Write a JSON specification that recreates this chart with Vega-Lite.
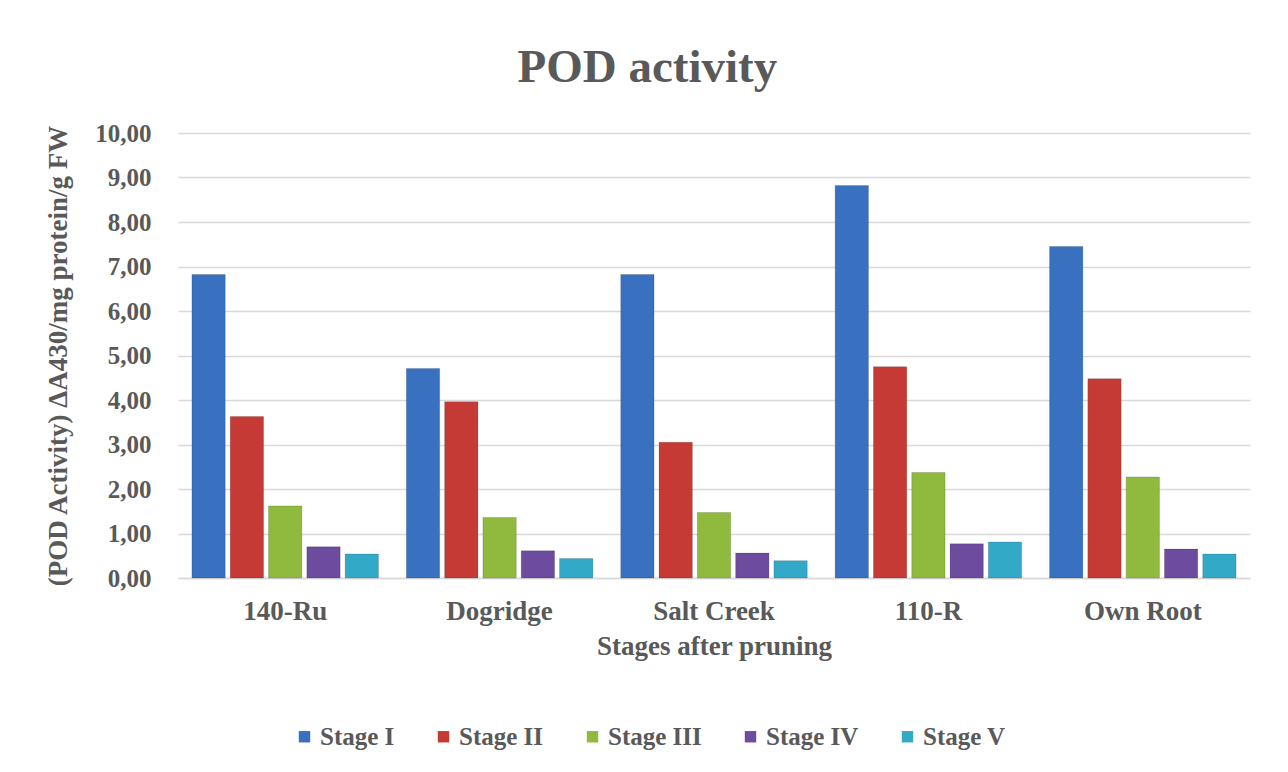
{
  "$schema": "https://vega.github.io/schema/vega-lite/v6.json",
  "width": 1072,
  "height": 445,
  "autosize": {"type": "none"},
  "padding": {"left": 178, "top": 133, "right": 38, "bottom": 194},
  "background": "white",
  "title": {
    "text": "POD activity",
    "font": "Liberation Serif",
    "fontSize": 47,
    "fontWeight": "bold",
    "color": "#595959",
    "anchor": "middle",
    "frame": "bounds",
    "offset": 29
  },
  "data": {
    "values": [
      {"rootstock": "140-Ru", "stage": "Stage I", "value": 6.82},
      {"rootstock": "140-Ru", "stage": "Stage II", "value": 3.63},
      {"rootstock": "140-Ru", "stage": "Stage III", "value": 1.62},
      {"rootstock": "140-Ru", "stage": "Stage IV", "value": 0.70},
      {"rootstock": "140-Ru", "stage": "Stage V", "value": 0.54},
      {"rootstock": "Dogridge", "stage": "Stage I", "value": 4.71},
      {"rootstock": "Dogridge", "stage": "Stage II", "value": 3.96},
      {"rootstock": "Dogridge", "stage": "Stage III", "value": 1.36},
      {"rootstock": "Dogridge", "stage": "Stage IV", "value": 0.61},
      {"rootstock": "Dogridge", "stage": "Stage V", "value": 0.44},
      {"rootstock": "Salt Creek", "stage": "Stage I", "value": 6.82},
      {"rootstock": "Salt Creek", "stage": "Stage II", "value": 3.05},
      {"rootstock": "Salt Creek", "stage": "Stage III", "value": 1.47},
      {"rootstock": "Salt Creek", "stage": "Stage IV", "value": 0.56},
      {"rootstock": "Salt Creek", "stage": "Stage V", "value": 0.39},
      {"rootstock": "110-R", "stage": "Stage I", "value": 8.82},
      {"rootstock": "110-R", "stage": "Stage II", "value": 4.75},
      {"rootstock": "110-R", "stage": "Stage III", "value": 2.37},
      {"rootstock": "110-R", "stage": "Stage IV", "value": 0.77},
      {"rootstock": "110-R", "stage": "Stage V", "value": 0.81},
      {"rootstock": "Own Root", "stage": "Stage I", "value": 7.45},
      {"rootstock": "Own Root", "stage": "Stage II", "value": 4.48},
      {"rootstock": "Own Root", "stage": "Stage III", "value": 2.27},
      {"rootstock": "Own Root", "stage": "Stage IV", "value": 0.65},
      {"rootstock": "Own Root", "stage": "Stage V", "value": 0.54}
    ]
  },
  "mark": {"type": "bar", "stroke": "#000000", "strokeOpacity": 0.15, "strokeWidth": 1},
  "encoding": {
    "x": {
      "field": "rootstock",
      "type": "nominal",
      "sort": ["140-Ru", "Dogridge", "Salt Creek", "110-R", "Own Root"],
      "scale": {"paddingInner": 0.13, "paddingOuter": 0.065},
      "axis": {
        "title": "Stages after pruning",
        "labelAngle": 0,
        "labelFont": "Liberation Serif",
        "labelFontSize": 27,
        "labelFontWeight": "bold",
        "labelColor": "#595959",
        "labelPadding": 20,
        "ticks": false,
        "domain": true,
        "domainColor": "#d9d9d9",
        "domainWidth": 1.5,
        "titleFont": "Liberation Serif",
        "titleFontSize": 27,
        "titleFontWeight": "bold",
        "titleColor": "#595959",
        "titlePadding": 9
      }
    },
    "xOffset": {
      "field": "stage",
      "type": "nominal",
      "sort": ["Stage I", "Stage II", "Stage III", "Stage IV", "Stage V"],
      "scale": {"paddingInner": 0.13}
    },
    "y": {
      "field": "value",
      "type": "quantitative",
      "scale": {"domain": [0, 10], "nice": false},
      "axis": {
        "title": "(POD Activity) ΔA430/mg protein/g FW",
        "values": [0, 1, 2, 3, 4, 5, 6, 7, 8, 9, 10],
        "labelExpr": "replace(format(datum.value, '.2f'), '.', ',')",
        "labelFont": "Liberation Serif",
        "labelFontSize": 25,
        "labelFontWeight": "bold",
        "labelColor": "#595959",
        "labelPadding": 27,
        "ticks": false,
        "domain": false,
        "grid": true,
        "gridColor": "#d9d9d9",
        "gridWidth": 1.5,
        "titleFont": "Liberation Serif",
        "titleFontSize": 27,
        "titleFontWeight": "bold",
        "titleColor": "#595959",
        "titlePadding": 22
      }
    },
    "color": {
      "field": "stage",
      "type": "nominal",
      "sort": ["Stage I", "Stage II", "Stage III", "Stage IV", "Stage V"],
      "scale": {
        "domain": ["Stage I", "Stage II", "Stage III", "Stage IV", "Stage V"],
        "range": ["#3a70c0", "#c63a36", "#8fba3e", "#6d4b9e", "#33a9c8"]
      },
      "legend": {
        "title": null,
        "orient": "none",
        "legendX": 114,
        "legendY": 591,
        "direction": "horizontal",
        "symbolType": "square",
        "symbolSize": 130,
        "symbolStrokeWidth": 0,
        "labelFont": "Liberation Serif",
        "labelFontSize": 25,
        "labelFontWeight": "bold",
        "labelColor": "#595959",
        "labelOffset": 3,
        "columnPadding": 36
      }
    }
  },
  "config": {
    "view": {"stroke": null}
  }
}
